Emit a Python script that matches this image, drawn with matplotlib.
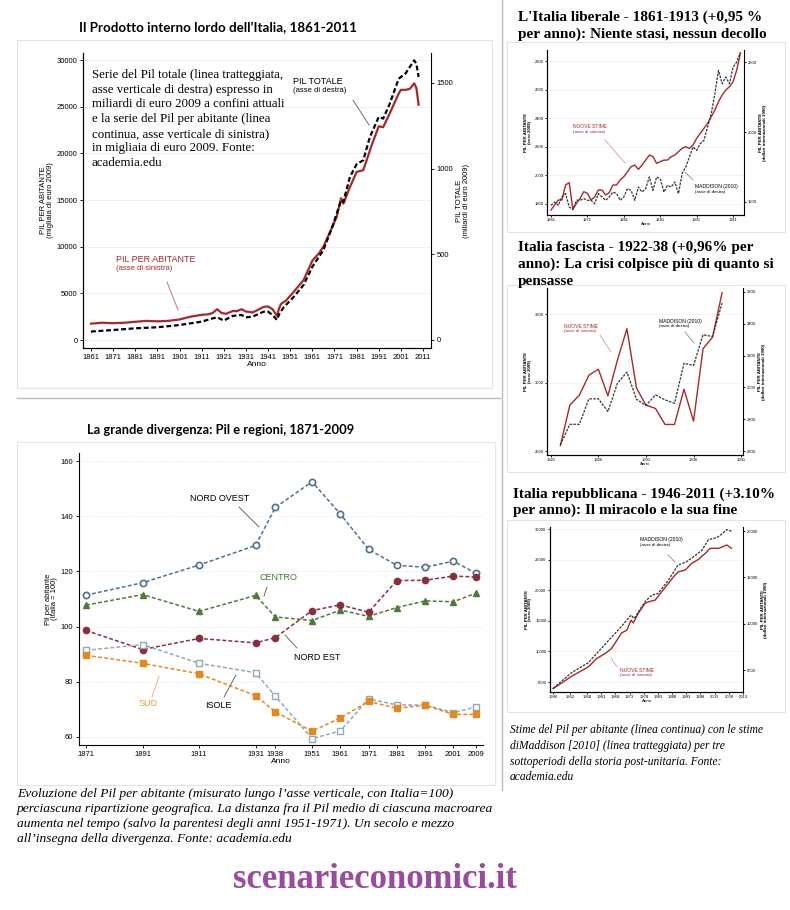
import numpy as np
import matplotlib.pyplot as plt
from matplotlib.lines import Line2D
from matplotlib.patches import Rectangle

# dimensioni in pixel della figura
W, H = 790, 910

# --- Pil dell'Italia 1861-2011 ---
anni_pc = [1861, 1866, 1871, 1876, 1881, 1886, 1891, 1896, 1901, 1906, 1911, 1914, 1916, 1918,
           1920, 1922, 1925, 1927, 1929, 1931, 1934, 1937, 1939, 1941, 1943, 1945, 1946, 1947,
           1949, 1952, 1957, 1961, 1964, 1966, 1970, 1972, 1974, 1975, 1978, 1981, 1984, 1988,
           1991, 1993, 1996, 2000, 2001, 2003, 2005, 2007, 2008, 2009]
pil_abitante = [1750, 1850, 1800, 1850, 1950, 2050, 2000, 2050, 2200, 2500, 2700, 2750, 2900, 3300,
                2900, 2800, 3100, 3100, 3300, 3050, 2950, 3300, 3550, 3600, 3300, 2600, 3400, 3900,
                4200, 5000, 6400, 8500, 9300, 10000, 12100, 13200, 15200, 14600, 16400, 18000, 18200, 21000,
                22900, 22800, 24300, 26400, 26800, 26800, 26900, 27500, 27000, 25200]
anni_tot = [1861, 1871, 1881, 1891, 1901, 1911, 1916, 1918, 1921, 1925, 1929, 1931, 1934, 1939,
            1941, 1943, 1945, 1946, 1948, 1952, 1957, 1961, 1966, 1970, 1974, 1975, 1978, 1981,
            1984, 1987, 1991, 1993, 1996, 2000, 2001, 2003, 2005, 2007, 2008, 2009]
pil_totale = [49, 58, 68, 74, 87, 107, 126, 132, 113, 140, 146, 132, 136, 165,
              165, 146, 117, 150, 190, 243, 320, 427, 525, 660, 816, 806, 952, 1026,
              1049, 1185, 1302, 1292, 1380, 1525, 1535, 1554, 1593, 1632, 1612, 1535]

# --- regioni 1871-2009 (Italia = 100) ---
anni_reg = [1871, 1891, 1911, 1931, 1938, 1951, 1961, 1971, 1981, 1991, 2001, 2009]
nord_ovest = [111.4, 115.9, 122.3, 129.4, 143.2, 152.5, 140.8, 128.0, 122.2, 121.5, 123.7, 119.3]
centro = [107.8, 111.6, 105.5, 111.3, 103.5, 102.2, 106.0, 103.7, 106.9, 109.3, 109.0, 112.1]
nord_est = [98.6, 91.7, 95.7, 94.1, 96.0, 105.8, 107.9, 105.2, 116.7, 116.8, 118.3, 118.0]
isole = [91.4, 93.5, 86.7, 83.3, 74.8, 59.4, 62.2, 73.8, 71.6, 71.6, 68.8, 70.9]
sud = [89.6, 86.7, 82.9, 75.0, 69.1, 62.1, 66.9, 72.9, 70.4, 71.5, 68.2, 68.2]

# --- Italia liberale 1861-1913 ---
anni_lib = list(range(1861, 1914))
lib_nuove = [1758, 1793, 1828, 1828, 1933, 1949, 1763, 1805, 1840, 1886, 1875, 1828, 1850, 1898, 1898,
             1863, 1880, 1933, 1933, 1968, 1991, 2026, 2061, 2072, 2042, 2072, 2107, 2142, 2131, 2084,
             2096, 2107, 2107, 2131, 2142, 2166, 2189, 2201, 2189, 2212, 2259, 2294, 2329, 2364, 2410,
             2457, 2515, 2562, 2597, 2620, 2655, 2737, 2853]
lib_madd = [1476, 1500, 1476, 1536, 1560, 1464, 1445, 1512, 1512, 1524, 1512, 1512, 1488, 1560, 1536,
            1512, 1536, 1571, 1560, 1512, 1536, 1595, 1583, 1512, 1607, 1571, 1595, 1679, 1583, 1679,
            1667, 1571, 1619, 1607, 1643, 1560, 1702, 1750, 1821, 1893, 1869, 1917, 1940, 2036, 2131,
            2274, 2440, 2345, 2393, 2345, 2464, 2500, 2571]

# --- Italia fascista 1922-1939 ---
anni_fas = list(range(1922, 1940))
fas_nuove = [2539, 2835, 2908, 3053, 3097, 2903, 3163, 3393, 2961, 2835, 2811, 2694, 2694, 2951,
             2718, 3247, 3332, 3655]
fas_madd = [2638, 2768, 2768, 2928, 2928, 2848, 3026, 3096, 2926, 2886, 2953, 2922, 2900, 3152,
            3138, 3331, 3320, 3530]

# --- Italia repubblicana 1946-2009 ---
anni_rep_n = [1946, 1952.5, 1958.4, 1961.3, 1964.3, 1966.6, 1970.2, 1972, 1973.5, 1974.3, 1976, 1978.4,
              1979.6, 1982, 1984.3, 1986.7, 1988.5, 1990.2, 1992.6, 1994.9, 1997.3, 1999.7, 2001.4,
              2004.4, 2007.3, 2008.9]
rep_nuove = [3900, 5930, 7460, 8820, 9640, 10460, 13030, 13460, 15100, 14660, 16190, 17830,
             18100, 18380, 19740, 21110, 22200, 23020, 23290, 24380, 25040, 26020, 26840,
             26840, 27390, 26840]
anni_rep_m = [1946, 1952.5, 1958.4, 1963, 1970, 1973.5, 1974.6, 1978.4, 1980.8, 1983, 1986.7, 1990,
              1993, 1995.5, 1998.5, 2000.8, 2003.8, 2006, 2007.3, 2008.9]
rep_madd = [3026, 4710, 5790, 7330, 9670, 10920, 10560, 12360, 13080, 13260, 14690, 16310,
            16670, 17210, 17920, 19070, 19290, 19790, 20150, 19970]

ROSSO = '#a8282c'


def rect(l, t, r, b):
    return [l / W, 1 - b / H, (r - l) / W, (b - t) / H]


def testo(x, y, s, **kw):
    fig.text(x / W, 1 - y / H, s, **kw)


def linea(x1, y1, x2, y2, color='#555555', lw=0.6):
    fig.add_artist(Line2D([x1 / W, x2 / W], [1 - y1 / H, 1 - y2 / H], color=color, lw=lw,
                          transform=fig.transFigure))


def cornice(l, t, r, b, color='#e4e4e4'):
    fig.add_artist(Rectangle((l / W, 1 - b / H), (r - l) / W, (b - t) / H, fill=False,
                             edgecolor=color, lw=0.8, transform=fig.transFigure))


def stile(ax, fs=6):
    ax.spines['top'].set_visible(False)
    ax.spines['right'].set_visible(False)
    ax.tick_params(labelsize=fs, length=2.5, width=0.6, pad=1.5)
    for s in ['left', 'bottom']:
        ax.spines[s].set_linewidth(0.8)


plt.rcParams['font.family'] = ['Liberation Sans', 'DejaVu Sans']
fig = plt.figure(figsize=(W / 100, H / 100), dpi=100)

# separatori
cornice(17, 40, 492, 388)
linea(17, 398, 500, 398, color='#bbbbbb', lw=1)
linea(502, 0, 502, 790, color='#bbbbbb', lw=1)
cornice(17, 442, 495, 785)

# ================= grafico 1 =================
testo(79, 28, "Il Prodotto interno lordo dell\u2019Italia, 1861-2011", family='Lato', weight='bold',
      fontsize=9.6, va='center')
ax1 = fig.add_axes(rect(83, 53, 431, 348))
ax1.plot(anni_pc, pil_abitante, color=ROSSO, lw=1.6)
ax1.set_xlim(1857.4, 2014.6)
ax1.set_ylim(-857, 30750)
ax1.set_xticks(range(1861, 2012, 10))
ax1.set_yticks(range(0, 30001, 5000))
ax1.yaxis.grid(True, color='#eeeeee', lw=0.6)
stile(ax1, 5.5)
ax1.set_xlabel('Anno', fontsize=6, labelpad=0)
ax1.set_ylabel('PIL PER ABITANTE\n(migliaia di euro 2009)', fontsize=5.5, labelpad=2, linespacing=0.9)
ax1b = ax1.twinx()
ax1b.plot(anni_tot, pil_totale, color='black', lw=1.6, ls=(0, (2.2, 1.2)))
ax1b.set_ylim(-47, 1675)
ax1b.set_yticks([0, 500, 1000, 1500])
ax1b.spines['top'].set_visible(False)
ax1b.spines['right'].set_linewidth(0.8)
ax1b.tick_params(labelsize=5.5, length=2.5, width=0.6, pad=1.5)
ax1b.set_ylabel('PIL TOTALE\n(miliardi di euro 2009)', fontsize=5.5, labelpad=2, linespacing=0.9)

testo(92, 69, "Serie del Pil totale (linea tratteggiata,\nasse verticale di destra) espresso in\n"
      "miliardi di euro 2009 a confini attuali\ne la serie del Pil per abitante (linea\n"
      "continua, asse verticale di sinistra)\nin migliaia di euro 2009. Fonte:\nacademia.edu",
      family='Liberation Serif', fontsize=9.3, va='top', linespacing=1.3)
testo(293, 81, "PIL TOTALE", fontsize=6.5, va='center')
testo(293, 91, "(asse di destra)", fontsize=5.5, va='center')
linea(353, 100, 369, 125)
testo(116, 259, "PIL PER ABITANTE", fontsize=6.5, va='center', color=ROSSO)
testo(116, 269, "(asse di sinistra)", fontsize=5.5, va='center', color=ROSSO)
linea(167, 282, 178, 310, color='#aa6666')

# ================= grafico 2 =================
testo(87, 430, "La grande divergenza: Pil e regioni, 1871-2009", family='Lato', weight='bold',
      fontsize=9.3, va='center')
ax2 = fig.add_axes(rect(79, 453, 483, 745))
tr = (0, (2.5, 1.5))
ax2.plot(anni_reg, nord_ovest, color='#4f7191', ls=tr, lw=1.1, marker='o', ms=4.5, mfc='white',
         mec='#4f7191', mew=1.2)
ax2.plot(anni_reg, centro, color='#4b7b35', ls=tr, lw=1.1, marker='^', ms=5, mec='#4b7b35')
ax2.plot(anni_reg, nord_est, color='#8c2d3f', ls=tr, lw=1.1, marker='o', ms=4.5, mec='#8c2d3f')
ax2.plot(anni_reg, isole, color='#8fa9b8', ls=tr, lw=1.1, marker='s', ms=4.5, mfc='white',
         mec='#8fa9b8', mew=1.0)
ax2.plot(anni_reg, sud, color='#e48a1c', ls=tr, lw=1.1, marker='s', ms=4.5, mec='#e48a1c')
ax2.set_xlim(1868.5, 2011.5)
ax2.set_ylim(57.1, 162.9)
ax2.set_xticks(anni_reg)
ax2.set_yticks(range(60, 161, 20))
ax2.yaxis.grid(True, color='#e6e6e6', lw=0.6, ls=(0, (2, 2)))
stile(ax2, 5.5)
ax2.set_xlabel('Anno', fontsize=6, labelpad=0)
ax2.set_ylabel('Pil per abitante\n(Italia = 100)', fontsize=5.5, labelpad=2, linespacing=0.9)

testo(190, 498, "NORD OVEST", fontsize=6.5, va='center')
linea(239, 507, 259, 527)
testo(259, 578, "CENTRO", fontsize=6.5, va='center', color='#3e7a2e')
linea(267, 587, 264, 596)
testo(294, 658, "NORD EST", fontsize=6.5, va='center')
linea(285, 635, 297, 648)
testo(139, 704, "SUD", fontsize=6.5, va='center', color='#e0a040')
linea(159, 676, 152, 697, color='#e0b070')
testo(205, 706, "ISOLE", fontsize=6.5, va='center')
linea(236, 675, 224, 697)

testo(17, 788, "Evoluzione del Pil per abitante (misurato lungo l\u2019asse verticale, con Italia=100)\n"
      "perciascuna ripartizione geografica. La distanza fra il Pil medio di ciascuna macroarea\n"
      "aumenta nel tempo (salvo la parentesi degli anni 1951-1971). Un secolo e mezzo\n"
      "all\u2019insegna della divergenza. Fonte: academia.edu",
      family='Liberation Serif', style='italic', fontsize=9.7, va='top', linespacing=1.32)

testo(375, 880, "scenarieconomici.it", family='Liberation Serif', weight='bold', fontsize=25,
      color='#9b4b9d', ha='center', va='center')


# ================= grafici piccoli =================
def piccolo(box, x, y1, xr, yl1, yl2, xt, yt1, yt2):
    ax = fig.add_axes(rect(*box))
    ax.plot(x, y1, color=ROSSO, lw=1.0)
    ax.set_xlim(*xr)
    ax.set_ylim(*yl1)
    ax.set_xticks(xt)
    ax.set_yticks(yt1)
    ax.yaxis.grid(True, color='#eeeeee', lw=0.5)
    stile(ax, 3)
    ax.tick_params(length=1.5, pad=1)
    ax.set_xlabel('Anno', fontsize=3.2, labelpad=0)
    ax.set_ylabel('PIL PER ABITANTE\n(euro 2009)', fontsize=3.2, labelpad=2, linespacing=0.9,
                  weight='bold')
    axb = ax.twinx()
    axb.set_ylim(*yl2)
    axb.set_yticks(yt2)
    axb.spines['top'].set_visible(False)
    axb.spines['right'].set_linewidth(0.8)
    axb.tick_params(labelsize=3, length=1.5, width=0.6, pad=1)
    axb.set_ylabel('PIL PER ABITANTE\n(dollari internazionali 1990)', fontsize=3.2, labelpad=2,
                   linespacing=0.9, weight='bold')
    return ax, axb


def note(xn, yn, ln, xm, ym, lm):
    testo(xn, yn, "NUOVE STIME", fontsize=3.6, color=ROSSO, va='center')
    testo(xn, yn + 5, "(asse di sinistra)", fontsize=3.2, color=ROSSO, va='center')
    linea(*ln, color='#c09090', lw=0.5)
    testo(xm, ym, "MADDISON (2010)", fontsize=3.6, va='center')
    testo(xm, ym + 5, "(asse di destra)", fontsize=3.2, va='center')
    linea(*lm, color='#777777', lw=0.5)


tserif = dict(family='Liberation Serif', weight='bold', fontsize=11, va='center')

# liberale
testo(518, 17, "L'Italia liberale - 1861-1913 (+0,95 %", **tserif)
testo(518, 34, "per anno): Niente stasi, nessun decollo", **tserif)
cornice(507, 42, 785, 232)
a, b = piccolo((547, 50, 744, 215), anni_lib, lib_nuove, (1859.9, 1914), (1723, 2877),
               (1407, 2586), range(1861, 1912, 10), range(1800, 2801, 200), [1500, 2000, 2500])
b.plot(anni_lib, lib_madd, color='#333333', lw=0.9, ls=(0, (2, 1)))
note(573, 127, (605, 140, 625, 163), 695, 187, (693, 180, 685, 172))

# fascista
testo(518, 247, "Italia fascista - 1922-38 (+0,96% per", **tserif)
testo(518, 264, "anno): La crisi colpisce pi\u00f9 di quanto si", **tserif)
testo(518, 281, "pensasse", **tserif)
cornice(507, 285, 785, 472)
a, b = piccolo((547, 288, 743, 455), anni_fas, fas_nuove, (1920.6, 1941.2), (2471, 3690),
               (2575, 3625), range(1921, 1942, 5), [2500, 3000, 3500], range(2600, 3601, 200))
b.plot(anni_fas, fas_madd, color='#333333', lw=0.9, ls=(0, (2, 1)))
note(564, 326, (600, 335, 611, 352), 659, 321, (685, 332, 694, 343))

# repubblicana
testo(513, 494, "Italia repubblicana - 1946-2011 (+3.10%", **tserif)
testo(513, 510, "per anno): Il miracolo e la sua fine", **tserif)
cornice(507, 520, 785, 712)
a, b = piccolo((550, 527, 743, 692), anni_rep_n, rep_nuove, (1944.9, 2013), (3366, 30327),
               (2626, 20432), [1946, 1952, 1958, 1963, 1968, 1973, 1978, 1983, 1988, 1993, 1998,
                               2003, 2008, 2013],
               range(5000, 30001, 5000), range(5000, 20001, 5000))
b.plot(anni_rep_m, rep_madd, color='#333333', lw=0.9, ls=(0, (2, 1)))
note(620, 670, (611, 658, 617, 667), 640, 540, (668, 555, 675, 562))

testo(510, 724, "Stime del Pil per abitante (linea continua) con le stime\n"
      "diMaddison [2010] (linea tratteggiata) per tre\n"
      "sottoperiodi della storia post-unitaria. Fonte:\nacademia.edu",
      family='Liberation Serif', style='italic', fontsize=8.3, va='top', linespacing=1.42)

fig.savefig('out.png', dpi=100)
